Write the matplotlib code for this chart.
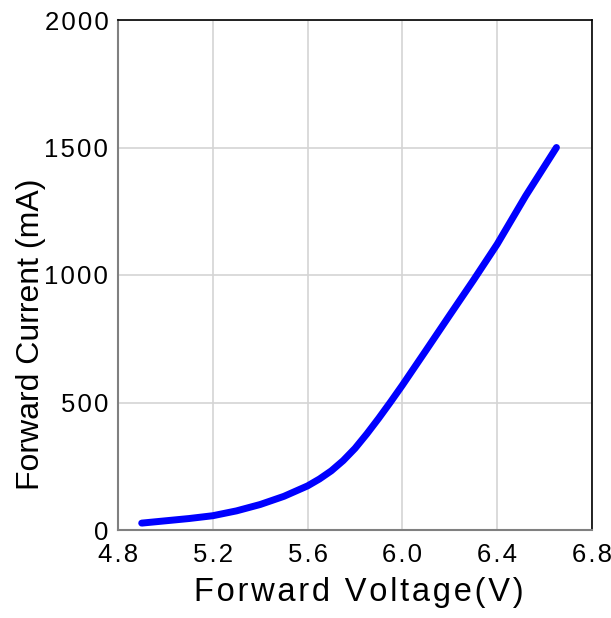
import matplotlib.pyplot as plt
import numpy as np

voltage = [4.90, 5.0, 5.1, 5.2, 5.3, 5.4, 5.5, 5.6, 5.65, 5.7, 5.75, 5.8, 5.85, 5.9, 5.95,
           6.0, 6.1, 6.2, 6.3, 6.4, 6.52, 6.65]
current = [27, 36, 45, 56, 75, 100, 132, 173, 200, 232, 272, 320, 377, 438, 502,
           568, 705, 843, 980, 1121, 1310, 1500]

xticks = [4.8, 5.2, 5.6, 6.0, 6.4, 6.8]
yticks = [0, 500, 1000, 1500, 2000]

HS = '\u200a'  # hair space, used for the loose letter spacing


def spaced(s):
    return HS.join(s)


plt.rcParams['font.family'] = ['Liberation Sans', 'DejaVu Sans']

fig = plt.figure(figsize=(6.11, 6.18), dpi=100)
ax = fig.add_axes([118 / 611, 88 / 618, 474 / 611, 510 / 618])

ax.plot(voltage, current, color='#0000ff', lw=5, solid_capstyle='round',
        solid_joinstyle='round', zorder=3)

ax.set_xlim(4.8, 6.8)
ax.set_ylim(0, 2000)
ax.set_xticks(xticks)
ax.set_xticklabels([spaced('%.1f' % v) for v in xticks])
ax.set_yticks(yticks)
ax.set_yticklabels([spaced(str(v)) for v in yticks])
ax.tick_params(length=0, labelsize=18.5)
ax.tick_params(axis='x', pad=9)
ax.tick_params(axis='y', pad=7)
ax.grid(color='#d4d4d4', lw=1.2)

for side in ['left', 'bottom']:
    ax.spines[side].set_color('#808080')
    ax.spines[side].set_linewidth(1.5)
for side in ['top', 'right']:
    ax.spines[side].set_color('black')
    ax.spines[side].set_linewidth(1.2)

ax.set_xlabel(spaced('Forward Voltage(V)'), fontsize=23.5)
ax.xaxis.set_label_coords(0.508, -0.092)
ax.set_ylabel('Forward Current (mA)', fontsize=23)
ax.yaxis.set_label_coords(-0.152, 0.384)

fig.savefig('out.png', dpi=100)
